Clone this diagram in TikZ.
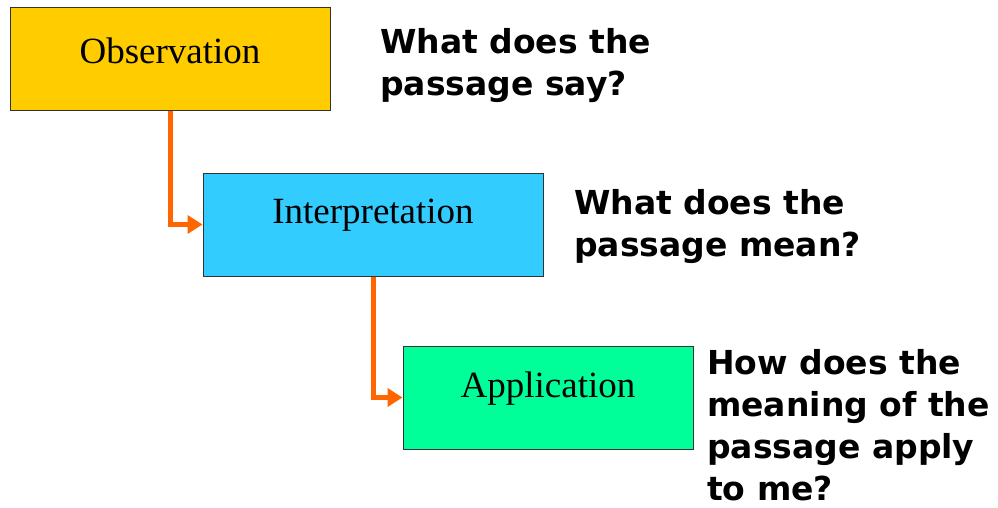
\documentclass[tikz,border=0pt]{standalone}
\usepackage{fontspec}
\setmainfont{Liberation Serif}
\newfontfamily\qfont{DejaVu Sans}
\usetikzlibrary{arrows.meta}
\definecolor{boxyellow}{HTML}{FFCC00}
\definecolor{boxcyan}{HTML}{33CCFF}
\definecolor{boxgreen}{HTML}{00FF99}
\definecolor{arrorange}{HTML}{FF6600}
\tikzset{
  box/.style={draw=black!80, line width=1pt, rectangle, inner sep=0pt},
  boxtext/.style={font=\fontsize{37}{40}\selectfont, inner sep=0pt},
  question/.style={font=\qfont\bfseries\fontsize{33}{42}\selectfont, align=left, anchor=north west, inner sep=0pt},
  arr/.style={draw=arrorange, line width=5pt, -{Triangle[length=15pt,width=18pt]}}
}
\begin{document}
\begin{tikzpicture}[x=1pt,y=-1pt]
\useasboundingbox (0,0) rectangle (998,508);
\node[box, fill=boxyellow, minimum width=320pt, minimum height=103pt] (obs) at (170,59.5) {};
\node[box, fill=boxcyan, minimum width=340pt, minimum height=103pt] (int) at (373,224.5) {};
\node[box, fill=boxgreen, minimum width=290pt, minimum height=103pt] (app) at (548,397.5) {};
\node[boxtext] (obst) at ([yshift=9pt]obs.center) {Observation};
\node[boxtext] (intt) at ([yshift=9pt]int.center) {Interpretation};
\node[boxtext] (appt) at ([yshift=9pt]app.center) {Application};
\node[question] (q1) at (380,28) {What does the\\passage say?};
\node[question] (q2) at (574,189) {What does the\\passage mean?};
\node[question] (q3) at (707,349) {How does the\\meaning of the\\passage apply\\to me?};
\draw[arr] (obs.south) |- (int.west);
\draw[arr] (int.south) |- (app.west);
\end{tikzpicture}
\end{document}
